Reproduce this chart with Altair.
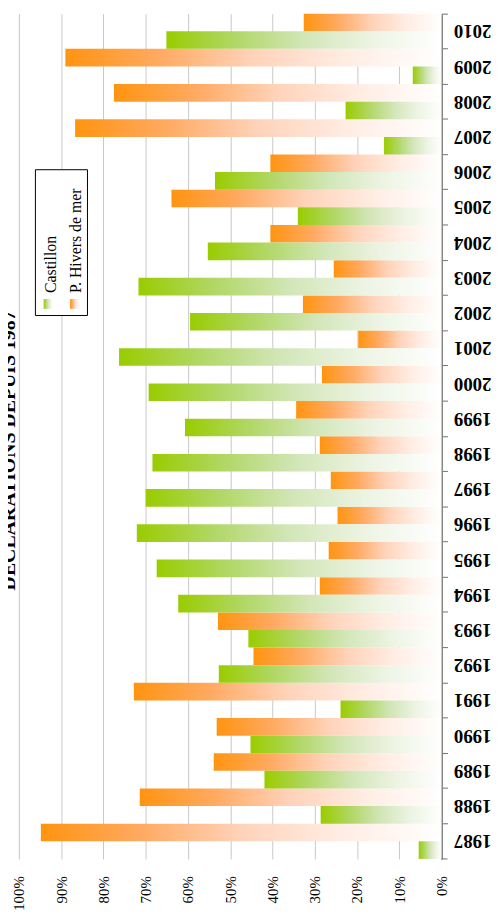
import altair as alt
import pandas as pd

# ---------------- data ----------------
years = ["1987", "1988", "1989", "1990", "1991", "1992", "1993", "1994",
         "1995", "1996", "1997", "1998", "1999", "2000", "2001", "2002",
         "2003", "2004", "2005", "2006", "2007", "2008", "2009", "2010"]
castillon = [5.4, 28.6, 41.9, 45.2, 23.9, 52.7, 45.7, 62.3,
             67.4, 72.1, 70.0, 68.4, 60.7, 69.3, 76.3, 59.5,
             71.7, 55.3, 34.0, 53.6, 13.6, 22.7, 6.8, 65.1]
hivers = [94.8, 71.4, 53.9, 53.2, 72.8, 44.5, 52.9, 28.8,
          26.7, 24.6, 26.2, 28.8, 34.4, 28.3, 19.7, 32.8,
          25.5, 40.5, 63.9, 40.5, 86.7, 77.5, 89.0, 32.6]
series_names = ["P. Hivers de mer", "Castillon"]
title_text = "DECLARATIONS DEPUIS 1987"
pct_ticks = [0, 0.1, 0.2, 0.3, 0.4, 0.5, 0.6, 0.7, 0.8, 0.9, 1.0]

rows = []
for y, c, h in zip(years, castillon, hivers):
    rows.append({"year": y, "series": "Castillon", "value": c / 100})
    rows.append({"year": y, "series": "P. Hivers de mer", "value": h / 100})
df = pd.DataFrame(rows)

W, H = 427, 854
FONT = "Liberation Serif"


def grad(stops):
    return alt.Gradient(
        gradient="linear",
        stops=[alt.GradientStop(color=c, offset=o) for o, c in stops],
        x1=0, x2=1, y1=0, y2=0,
    )


orange_grad = grad([(0, "#FF9410"), (0.25, "#FFAA62"), (0.5, "#FFD3BA"),
                    (0.75, "#FFEDE4"), (1, "#FFFFFF")])
green_grad = grad([(0, "#99CC00"), (0.25, "#B1D766"), (0.5, "#D2E6B8"),
                   (0.75, "#EDF4E4"), (1, "#FFFFFF")])

y_enc = alt.Y(
    "year:N",
    sort=years[::-1],
    scale=alt.Scale(paddingInner=0, paddingOuter=0),
    axis=alt.Axis(
        orient="right", title=None, grid=False,
        domainColor="#868686", domainWidth=2,
        tickColor="#707070", tickSize=6, tickWidth=1, bandPosition=0,
        labelFont=FONT, labelFontWeight="bold", labelFontSize=19,
        labelColor="black", labelAngle=180, labelAlign="right",
        labelBaseline="middle", labelPadding=6,
    ),
)
yoff = alt.YOffset(
    "series:N", sort=series_names,
    scale=alt.Scale(domain=series_names, paddingInner=0, paddingOuter=0),
)
x_enc = alt.X(
    "value:Q",
    scale=alt.Scale(domain=[0, 1], reverse=True, nice=False),
    axis=alt.Axis(
        values=pct_ticks, format=".0%", title=None,
        grid=True, gridColor="#C8C8C8", gridWidth=1,
        domain=False, ticks=False, tickSize=0,
        labelAngle=270, labelAlign="right", labelBaseline="middle",
        labelPadding=17, labelFlush=False, labelOverlap=False,
        labelFont=FONT, labelFontSize=15, labelColor="black",
    ),
)

base = alt.Chart(df)
orange = base.transform_filter(alt.datum.series == "P. Hivers de mer").mark_bar(
    fill=orange_grad, opacity=1
).encode(x=x_enc, y=y_enc, yOffset=yoff)
green = base.transform_filter(alt.datum.series == "Castillon").mark_bar(
    fill=green_grad, opacity=1
).encode(x=x_enc, y=y_enc, yOffset=yoff)

one = pd.DataFrame({"a": [0]})

bottom_tick = alt.Chart(one).mark_rule(color="#707070", strokeWidth=1).encode(
    x=alt.value(W), x2=alt.value(W + 6), y=alt.value(H)
)

# title (rotated, partially cut off at the left edge as in the reference)
title_df = pd.DataFrame({"t": [title_text]})
title = alt.Chart(title_df).mark_text(
    angle=270, align="left", baseline="alphabetic", font=FONT,
    fontSize=20, fontWeight="bold", color="black"
).encode(x=alt.value(-4), y=alt.value(582.7), text="t:N")

# hand-built rotated legend
legend_box = alt.Chart(one).mark_rect(
    fill="white", stroke="black", strokeWidth=1
).encode(x=alt.value(16.7), x2=alt.value(69.3), y=alt.value(157.7), y2=alt.value(305))
sym_green = alt.Chart(one).mark_rect(fill=green_grad).encode(
    x=alt.value(25), x2=alt.value(34.3), y=alt.value(288.3), y2=alt.value(298.3)
)
sym_orange = alt.Chart(one).mark_rect(fill=orange_grad).encode(
    x=alt.value(51.7), x2=alt.value(61), y=alt.value(288.3), y2=alt.value(298.3)
)
lab_df_c = pd.DataFrame({"t": [series_names[1]]})
lab_df_h = pd.DataFrame({"t": [series_names[0]]})
lab_c = alt.Chart(lab_df_c).mark_text(
    angle=270, align="left", baseline="alphabetic", font=FONT,
    fontSize=16, color="black"
).encode(x=alt.value(37.7), y=alt.value(282.3), text="t:N")
lab_h = alt.Chart(lab_df_h).mark_text(
    angle=270, align="left", baseline="alphabetic", font=FONT,
    fontSize=16, color="black"
).encode(x=alt.value(62.7), y=alt.value(282.3), text="t:N")

chart = alt.layer(
    orange, green, bottom_tick, title, legend_box, sym_green, sym_orange, lab_c, lab_h
).properties(
    width=W, height=H,
    padding={"left": 11, "top": 1, "right": 52, "bottom": 55},
    autosize=alt.AutoSizeParams(type="none"),
    background="white",
).configure_view(stroke=None)

chart.save("out.html", embed_options={"renderer": "svg", "actions": False})
